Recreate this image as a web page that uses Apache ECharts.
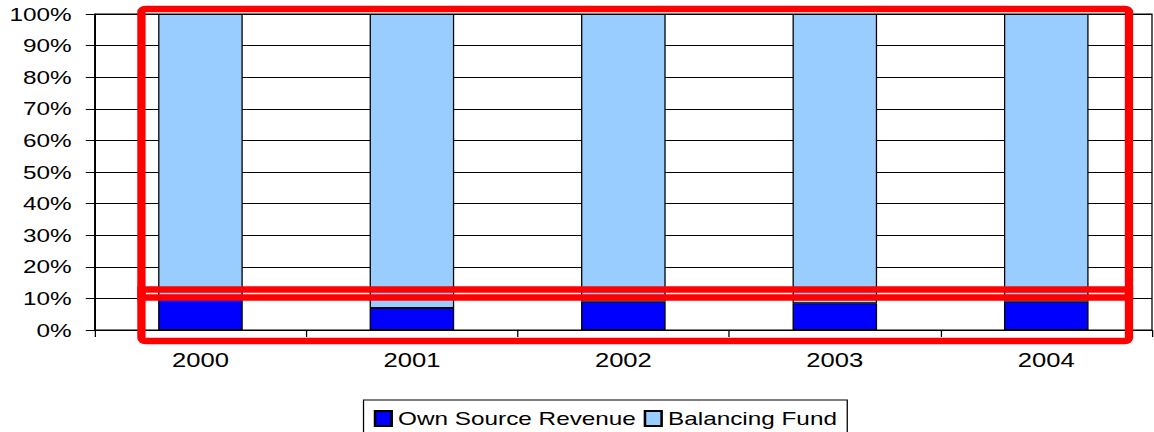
<!DOCTYPE html>
<html>
<head>
<meta charset="utf-8">
<script src="https://cdn.jsdelivr.net/npm/echarts@6/dist/echarts.min.js"></script>
<style>
  html, body { margin: 0; padding: 0; background: #fff; overflow: hidden; }
  /* the source picture is stretched sideways, so draw narrow and scale */
  #chart { width: 902px; height: 432px; transform: scaleX(1.28); transform-origin: 0 0; }
</style>
</head>
<body>
<div id="chart"></div>
<script>
var years = ['2000', '2001', '2002', '2003', '2004']
var ownSource = [10, 7, 9, 8.5, 9]
var balancingFund = [90, 93, 91, 91.5, 91]

var font = "'Liberation Sans', Arial, sans-serif"

var chart = echarts.init(document.getElementById('chart'), null, { renderer: 'svg' })

chart.setOption({
  animation: false,
  textStyle: { fontFamily: font, color: '#000' },
  grid: {
    left: 74,
    right: 2,
    top: 14,
    bottom: 102,
    show: true,
    borderColor: '#000',
    borderWidth: 1
  },
  legend: {
    left: 284,
    top: 400,
    itemWidth: 13,
    itemHeight: 15,
    itemGap: 6,
    padding: [9, 8, 9, 8],
    borderColor: '#000',
    borderWidth: 1,
    icon: 'rect',
    textStyle: { fontSize: 19, color: '#000', fontFamily: font },
    data: ['Own Source Revenue', 'Balancing Fund']
  },
  xAxis: {
    type: 'category',
    data: years,
    axisLine: { lineStyle: { color: '#000', width: 1 } },
    axisTick: { show: true, length: 7, lineStyle: { color: '#000' } },
    axisLabel: { fontSize: 20, color: '#000', margin: 20, fontFamily: font }
  },
  yAxis: {
    type: 'value',
    min: 0,
    max: 100,
    interval: 10,
    axisLine: { show: true, lineStyle: { color: '#000', width: 1 } },
    axisTick: { show: true, length: 7, lineStyle: { color: '#000' } },
    axisLabel: { formatter: '{value}%', fontSize: 19, color: '#000', margin: 18, fontFamily: font },
    splitLine: { show: true, lineStyle: { color: '#000', width: 1 } }
  },
  series: [
    {
      name: 'Own Source Revenue',
      type: 'bar',
      stack: 'total',
      barWidth: '40%',
      data: ownSource,
      itemStyle: { color: '#0000ff', borderColor: '#000', borderWidth: 1 }
    },
    {
      name: 'Balancing Fund',
      type: 'bar',
      stack: 'total',
      barWidth: '40%',
      data: balancingFund,
      itemStyle: { color: '#99ccff', borderColor: '#000', borderWidth: 1 }
    }
  ],
  // red highlight boxes drawn over the chart
  graphic: [
    {
      type: 'rect',
      z: 100,
      silent: true,
      shape: { x: 110.5, y: 9, width: 771.5, height: 332, r: 3 },
      style: { fill: 'none', stroke: '#ff0000', lineWidth: 6.5 }
    },
    {
      type: 'rect',
      z: 100,
      silent: true,
      shape: { x: 110.5, y: 289.5, width: 771.5, height: 8 },
      style: { fill: 'none', stroke: '#ff0000', lineWidth: 6.5 }
    }
  ]
})
</script>
</body>
</html>
